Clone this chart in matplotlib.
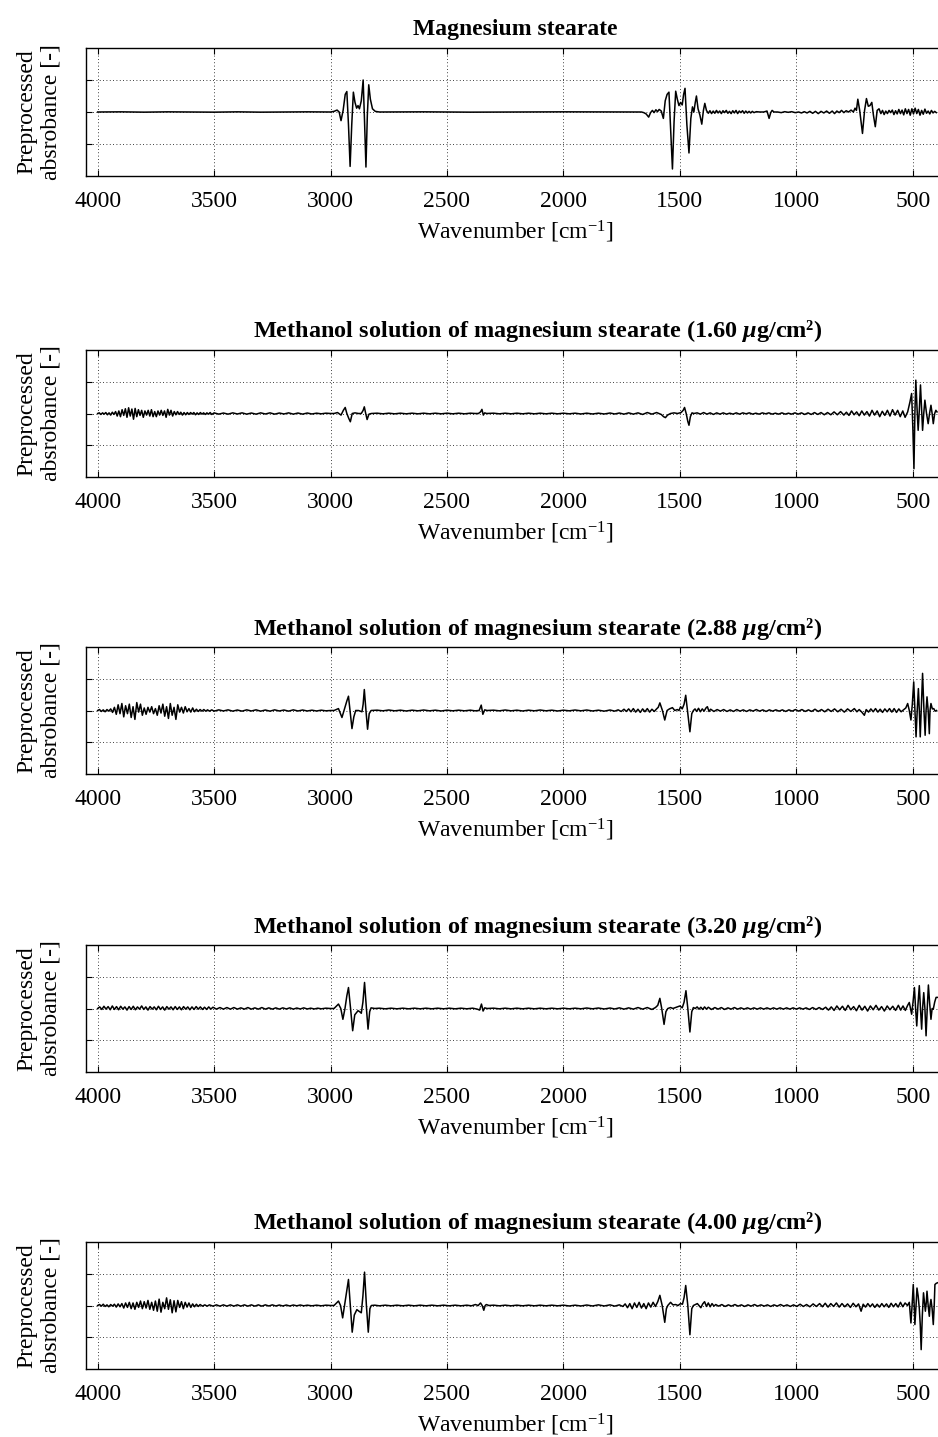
import matplotlib
matplotlib.use("Agg")
import matplotlib.pyplot as plt

plt.rcParams.update({
    "font.family": ["Liberation Serif", "DejaVu Serif"],
    "mathtext.fontset": "custom",
    "mathtext.rm": "Liberation Serif",
    "mathtext.it": "Liberation Serif:italic:bold",
    "mathtext.bf": "Liberation Serif:bold",
})

# ---------------------------------------------------------------------------
# Preprocessed absorbance spectra: (wavenumber [cm-1], absorbance) pairs
# ---------------------------------------------------------------------------
SPEC_POWDER = [
    (4000, 0.0), (3900, 0.005), (3800, -0.005), (3700, 0.005), (3600, 0.0),
    (3500, -0.005), (3400, 0.005), (3300, -0.005), (3200, 0.0), (3100, 0.005),
    (3000, 0.0), (2985, 0.02), (2972, 0.06), (2963, 0.0), (2955, -0.27),
    (2946, 0.05), (2937, 0.55), (2930, 0.64), (2923, -0.4), (2916, -1.70),
    (2909, -0.4), (2902, 0.62), (2895, 0.3), (2888, 0.12), (2882, 0.2),
    (2876, 0.1), (2868, 0.35), (2860, 1.0), (2854, -0.3), (2848, -1.72),
    (2842, -0.1), (2836, 0.85), (2829, 0.4), (2820, 0.1), (2808, 0.02),
    (2790, 0.0), (2600, 0.005), (2400, -0.005), (2200, 0.0), (2000, 0.005),
    (1800, 0.0), (1665, 0.0), (1655, -0.02), (1645, -0.06), (1634, -0.16),
    (1626, -0.02), (1618, 0.05), (1611, -0.02), (1603, 0.07), (1596, 0.01),
    (1589, 0.08), (1580, 0.03), (1571, -0.2), (1563, 0.35), (1555, 0.55),
    (1547, 0.62), (1540, -0.5), (1532, -1.78), (1525, -0.3), (1518, 0.65),
    (1511, 0.4), (1504, 0.2), (1497, 0.3), (1490, 0.22), (1484, 0.55),
    (1478, 0.74), (1470, -0.4), (1461, -1.28), (1453, -0.2), (1446, 0.16),
    (1440, 0.0), (1434, 0.3), (1429, 0.5), (1422, 0.1), (1414, -0.1),
    (1406, -0.38), (1399, 0.05), (1393, 0.27), (1386, 0.05), (1378, -0.04),
    (1371, 0.04), (1364, -0.05), (1357, 0.03), (1350, -0.04), (1343, 0.05),
    (1336, -0.03), (1329, 0.03), (1322, -0.05), (1315, 0.04), (1308, -0.02),
    (1301, 0.05), (1294, -0.04), (1287, 0.02), (1280, -0.05), (1273, 0.04),
    (1266, -0.03), (1259, 0.05), (1252, -0.05), (1245, 0.03), (1238, -0.02),
    (1231, 0.04), (1224, -0.04), (1217, 0.03), (1210, -0.03), (1203, 0.02),
    (1196, -0.03), (1189, 0.02), (1182, -0.02), (1172, 0.01), (1158, 0.0),
    (1140, 0.0), (1126, 0.03), (1117, -0.2), (1110, -0.02), (1104, 0.05),
    (1096, 0.0), (1080, 0.0), (1065, -0.02), (1050, 0.01), (1035, -0.01),
    (1020, 0.01), (1005, -0.02), (990, 0.0), (978, -0.03), (966, 0.01),
    (954, -0.03), (942, 0.02), (930, -0.04), (918, 0.02), (906, -0.05),
    (894, 0.02), (882, -0.03), (870, 0.03), (858, -0.04), (846, 0.03),
    (836, -0.05), (826, 0.03), (816, -0.02), (806, 0.05), (796, -0.02),
    (786, 0.04), (776, 0.0), (765, 0.06), (755, 0.0), (748, 0.12),
    (742, 0.05), (736, 0.4), (728, 0.05), (716, -0.67), (707, 0.05),
    (699, 0.42), (691, 0.18), (684, 0.2), (676, 0.3), (669, -0.1),
    (661, -0.46), (653, 0.05), (645, 0.1), (637, -0.05), (630, 0.05),
    (623, -0.08), (616, 0.03), (609, -0.05), (602, 0.05), (595, -0.02),
    (588, 0.06), (581, -0.08), (574, 0.04), (567, -0.06), (560, 0.08),
    (553, -0.05), (546, 0.06), (539, -0.09), (532, 0.1), (525, -0.05),
    (518, 0.08), (511, -0.1), (504, 0.1), (497, -0.06), (490, 0.12),
    (483, -0.05), (476, 0.08), (469, -0.1), (462, 0.05), (455, -0.07),
    (448, 0.09), (441, -0.04), (434, 0.03), (427, -0.06), (420, 0.05),
    (413, -0.03), (406, 0.02), (399, -0.02),
]

SPEC_160 = [
    (4000, 0.0), (3993, 0.02), (3986, -0.03), (3979, 0.02), (3972, -0.02),
    (3965, 0.03), (3958, -0.04), (3951, 0.02), (3944, -0.05), (3937, 0.04),
    (3930, -0.03), (3923, 0.06), (3916, -0.08), (3909, 0.08), (3902, -0.1),
    (3895, 0.12), (3888, -0.06), (3881, 0.15), (3874, -0.12), (3867, 0.18),
    (3860, -0.08), (3853, 0.14), (3846, -0.18), (3839, 0.16), (3832, -0.1),
    (3825, 0.12), (3818, -0.06), (3811, 0.1), (3804, -0.12), (3797, 0.08),
    (3790, -0.05), (3783, 0.1), (3776, -0.08), (3769, 0.12), (3762, -0.1),
    (3755, 0.06), (3748, -0.1), (3741, 0.08), (3734, -0.05), (3727, 0.1),
    (3720, -0.06), (3713, 0.08), (3706, -0.12), (3699, 0.13), (3692, -0.05),
    (3685, 0.1), (3678, -0.08), (3671, 0.06), (3664, -0.04), (3657, 0.06),
    (3650, -0.03), (3643, 0.04), (3636, -0.05), (3629, 0.03), (3622, -0.04),
    (3615, 0.03), (3608, -0.03), (3601, 0.03), (3594, -0.02), (3587, 0.03),
    (3580, -0.04), (3573, 0.02), (3566, -0.03), (3559, 0.03), (3552, -0.02),
    (3545, 0.02), (3538, -0.03), (3531, 0.02), (3524, -0.02), (3517, 0.03),
    (3510, -0.03), (3500, 0.02), (3480, -0.02), (3460, 0.015), (3440, -0.02),
    (3420, 0.02), (3400, -0.015), (3380, 0.02), (3360, -0.02), (3340, 0.015),
    (3320, -0.02), (3300, 0.02), (3280, -0.015), (3260, 0.02), (3240, -0.02),
    (3220, 0.015), (3200, -0.015), (3180, 0.02), (3160, -0.02), (3140, 0.015),
    (3120, -0.02), (3100, 0.015), (3080, -0.015), (3060, 0.01), (3040, -0.01),
    (3020, 0.01), (3000, 0.0), (2985, 0.0), (2970, 0.03), (2955, -0.05),
    (2945, 0.1), (2937, 0.19), (2930, 0.0), (2922, -0.15), (2915, -0.26),
    (2907, 0.0), (2895, 0.02), (2880, 0.0), (2868, 0.0), (2860, 0.1),
    (2855, 0.21), (2849, 0.0), (2843, -0.19), (2835, -0.02), (2825, 0.0),
    (2800, 0.01), (2775, -0.01), (2750, 0.01), (2725, -0.01), (2700, 0.01),
    (2675, -0.01), (2650, 0.01), (2625, -0.01), (2600, 0.01), (2575, -0.01),
    (2550, 0.01), (2525, -0.01), (2500, 0.01), (2475, -0.01), (2450, 0.01),
    (2425, -0.01), (2400, 0.01), (2380, 0.0), (2365, 0.0), (2356, 0.05),
    (2350, 0.13), (2344, -0.05), (2338, 0.02), (2330, 0.0), (2300, 0.01),
    (2275, -0.01), (2250, 0.01), (2225, -0.01), (2200, 0.01), (2175, -0.01),
    (2150, 0.01), (2125, -0.01), (2100, 0.01), (2075, -0.01), (2050, 0.01),
    (2025, -0.01), (2000, 0.01), (1975, -0.01), (1950, 0.01), (1925, -0.015),
    (1900, 0.01), (1875, -0.015), (1850, 0.01), (1825, -0.015), (1800, 0.015),
    (1780, -0.015), (1760, 0.015), (1740, -0.02), (1720, 0.02), (1700, -0.02),
    (1680, 0.02), (1660, -0.03), (1640, 0.03), (1620, -0.02), (1600, 0.03),
    (1590, 0.0), (1580, -0.03), (1570, -0.1), (1562, -0.13), (1553, -0.05),
    (1540, 0.0), (1525, 0.02), (1510, 0.0), (1495, 0.03), (1486, 0.1),
    (1480, 0.19), (1473, 0.0), (1466, -0.25), (1461, -0.37), (1455, -0.1),
    (1448, 0.02), (1440, 0.0), (1426, 0.02), (1412, -0.02), (1398, 0.03),
    (1384, -0.02), (1370, 0.02), (1356, -0.03), (1342, 0.02), (1328, -0.02),
    (1314, 0.02), (1300, -0.02), (1286, 0.01), (1272, -0.02), (1258, 0.02),
    (1244, -0.02), (1230, 0.02), (1216, -0.01), (1202, 0.02), (1188, -0.02),
    (1174, 0.01), (1160, -0.02), (1146, 0.02), (1132, -0.01), (1118, 0.02),
    (1104, -0.02), (1090, 0.01), (1076, -0.02), (1062, 0.02), (1048, -0.02),
    (1034, 0.01), (1020, -0.02), (1006, 0.02), (992, -0.02), (978, 0.02),
    (964, -0.03), (950, 0.02), (936, -0.03), (922, 0.03), (908, -0.03),
    (894, 0.03), (880, -0.04), (866, 0.03), (852, -0.04), (838, 0.05),
    (824, -0.04), (810, 0.06), (796, -0.05), (785, 0.04), (774, -0.06),
    (763, 0.08), (752, -0.04), (741, 0.05), (730, -0.07), (719, 0.08),
    (708, -0.05), (697, 0.06), (686, -0.08), (675, 0.1), (664, -0.05),
    (653, 0.08), (642, -0.1), (631, 0.07), (620, -0.06), (609, 0.1),
    (598, -0.08), (587, 0.12), (576, -0.05), (565, 0.1), (554, -0.1),
    (543, 0.08), (533, -0.12), (522, 0.05), (512, 0.37), (505, 0.63),
    (500, -0.4), (495, -1.74), (491, 0.0), (487, 1.05), (482, 0.2),
    (477, -0.53), (472, 0.1), (467, 0.9), (462, 0.1), (458, -0.53),
    (453, 0.0), (448, 0.42), (441, 0.0), (434, -0.32), (428, 0.0),
    (422, 0.26), (417, 0.0), (412, -0.32), (406, 0.0), (401, 0.1),
    (396, 0.05),
]

SPEC_288 = [
    (4000, 0.0), (3992, 0.03), (3984, -0.03), (3976, 0.02), (3968, -0.04),
    (3960, 0.03), (3952, -0.02), (3944, 0.05), (3936, -0.06), (3928, 0.1),
    (3920, -0.12), (3912, 0.18), (3904, -0.1), (3896, 0.22), (3888, -0.2),
    (3880, 0.15), (3872, -0.1), (3864, 0.2), (3856, -0.22), (3848, 0.12),
    (3840, -0.28), (3832, 0.25), (3824, -0.05), (3816, 0.2), (3808, -0.15),
    (3800, 0.08), (3792, -0.12), (3784, 0.1), (3776, -0.05), (3768, 0.12),
    (3760, -0.1), (3752, 0.06), (3744, -0.15), (3736, 0.15), (3728, -0.08),
    (3720, 0.2), (3712, -0.18), (3704, 0.12), (3696, -0.25), (3688, 0.22),
    (3680, -0.15), (3672, 0.1), (3664, -0.28), (3656, 0.18), (3648, -0.05),
    (3640, 0.1), (3632, -0.08), (3624, 0.12), (3616, -0.04), (3608, 0.06),
    (3600, -0.05), (3592, 0.08), (3584, -0.04), (3576, 0.04), (3568, -0.03),
    (3560, 0.03), (3552, -0.02), (3544, 0.03), (3536, -0.02), (3528, 0.02),
    (3520, -0.02), (3510, 0.02), (3500, -0.02), (3480, 0.02), (3460, -0.015),
    (3440, 0.02), (3420, -0.02), (3400, 0.015), (3380, -0.02), (3360, 0.02),
    (3340, -0.015), (3320, 0.02), (3300, -0.02), (3280, 0.015), (3260, -0.02),
    (3240, 0.02), (3220, -0.015), (3200, 0.015), (3180, -0.02), (3160, 0.02),
    (3140, -0.015), (3120, 0.015), (3100, -0.015), (3080, 0.01), (3060, -0.015),
    (3040, 0.01), (3020, -0.01), (3000, 0.0), (2985, 0.0), (2966, 0.06),
    (2951, -0.22), (2940, 0.05), (2930, 0.3), (2923, 0.45), (2915, -0.1),
    (2908, -0.57), (2900, -0.2), (2892, 0.0), (2880, 0.0), (2865, -0.04),
    (2860, 0.2), (2855, 0.66), (2848, 0.0), (2841, -0.59), (2834, -0.1),
    (2826, 0.0), (2800, 0.01), (2775, -0.01), (2750, 0.015), (2725, -0.01),
    (2700, 0.01), (2675, -0.015), (2650, 0.01), (2625, -0.01), (2600, 0.015),
    (2575, -0.01), (2550, 0.01), (2525, -0.015), (2500, 0.01), (2475, -0.01),
    (2450, 0.01), (2425, -0.01), (2400, 0.01), (2380, -0.01), (2362, 0.0),
    (2353, 0.17), (2346, -0.12), (2338, 0.02), (2328, 0.0), (2300, 0.01),
    (2275, -0.01), (2250, 0.015), (2225, -0.01), (2200, 0.01), (2175, -0.015),
    (2150, 0.01), (2125, -0.01), (2100, 0.015), (2075, -0.01), (2050, 0.01),
    (2025, -0.015), (2000, 0.01), (1975, -0.01), (1950, 0.015), (1925, -0.01),
    (1900, 0.015), (1875, -0.015), (1850, 0.01), (1825, -0.02), (1800, 0.015),
    (1780, -0.02), (1765, 0.02), (1752, -0.03), (1740, 0.04), (1730, -0.03),
    (1720, 0.05), (1710, -0.04), (1700, 0.06), (1690, -0.05), (1680, 0.04),
    (1670, -0.06), (1660, 0.05), (1650, -0.04), (1640, 0.06), (1630, -0.05),
    (1620, 0.04), (1610, -0.03), (1600, 0.05), (1593, 0.1), (1586, 0.24),
    (1575, 0.0), (1565, -0.3), (1555, 0.0), (1545, 0.05), (1532, 0.09),
    (1522, 0.0), (1511, 0.03), (1504, 0.0), (1497, 0.12), (1490, 0.05),
    (1482, 0.2), (1475, 0.48), (1466, -0.1), (1457, -0.67), (1449, -0.1),
    (1442, 0.0), (1435, 0.05), (1428, -0.03), (1420, 0.07), (1412, -0.04),
    (1404, 0.05), (1396, -0.02), (1388, 0.08), (1382, 0.12), (1375, -0.03),
    (1368, 0.04), (1354, -0.03), (1340, 0.03), (1326, -0.02), (1312, 0.03),
    (1298, -0.03), (1284, 0.02), (1270, -0.03), (1256, 0.03), (1242, -0.02),
    (1228, 0.02), (1214, -0.03), (1200, 0.02), (1186, -0.02), (1172, 0.03),
    (1158, -0.02), (1144, 0.02), (1130, -0.03), (1116, 0.02), (1102, -0.02),
    (1088, 0.02), (1074, -0.02), (1060, 0.02), (1046, -0.03), (1032, 0.02),
    (1018, -0.02), (1004, 0.03), (990, -0.02), (976, 0.03), (962, -0.03),
    (948, 0.02), (934, -0.03), (920, 0.04), (906, -0.03), (892, 0.03),
    (878, -0.04), (864, 0.04), (850, -0.03), (836, 0.05), (822, -0.04),
    (808, 0.04), (794, -0.05), (780, 0.05), (766, -0.03), (751, 0.06),
    (740, -0.04), (730, 0.03), (719, -0.05), (708, -0.15), (700, 0.03),
    (690, -0.05), (680, 0.05), (670, -0.04), (660, 0.06), (650, -0.05),
    (640, 0.04), (630, -0.06), (620, 0.05), (610, -0.04), (600, 0.06),
    (590, -0.05), (580, 0.06), (570, -0.06), (560, 0.05), (550, -0.04),
    (540, 0.02), (530, 0.08), (522, 0.22), (515, 0.0), (508, -0.3),
    (502, 0.2), (496, 0.9), (491, 0.0), (486, -0.83), (481, 0.0),
    (476, 0.69), (472, 0.0), (468, -0.83), (463, 0.2), (458, 1.17),
    (452, 0.0), (447, -0.78), (443, 0.0), (439, 0.43), (434, 0.0),
    (429, -0.73), (426, 0.0), (422, 0.22), (416, 0.05), (410, 0.06),
    (404, -0.02), (398, 0.0),
]

SPEC_320 = [
    (4000, 0.0), (3991, 0.05), (3982, -0.03), (3973, 0.07), (3964, -0.02),
    (3955, 0.06), (3946, -0.04), (3937, 0.08), (3928, -0.03), (3919, 0.06),
    (3910, -0.04), (3901, 0.07), (3892, -0.02), (3883, 0.05), (3874, -0.05),
    (3865, 0.06), (3856, -0.03), (3847, 0.07), (3838, -0.04), (3829, 0.05),
    (3820, -0.02), (3811, 0.08), (3802, -0.03), (3793, 0.05), (3784, -0.05),
    (3775, 0.06), (3766, -0.02), (3757, 0.05), (3748, -0.04), (3739, 0.07),
    (3730, -0.03), (3721, 0.05), (3712, -0.05), (3703, 0.06), (3694, -0.02),
    (3685, 0.05), (3676, -0.04), (3667, 0.06), (3658, -0.03), (3649, 0.05),
    (3640, -0.04), (3631, 0.06), (3622, -0.02), (3613, 0.05), (3604, -0.04),
    (3595, 0.05), (3586, -0.03), (3577, 0.06), (3568, -0.02), (3559, 0.05),
    (3550, -0.03), (3541, 0.04), (3532, -0.03), (3523, 0.05), (3514, -0.02),
    (3505, 0.04), (3490, -0.02), (3475, 0.03), (3460, -0.02), (3445, 0.03),
    (3430, -0.02), (3415, 0.03), (3400, -0.02), (3385, 0.02), (3370, -0.02),
    (3355, 0.03), (3340, -0.02), (3325, 0.02), (3310, -0.02), (3295, 0.03),
    (3280, -0.02), (3265, 0.02), (3250, -0.02), (3235, 0.02), (3220, -0.02),
    (3205, 0.02), (3190, -0.015), (3175, 0.02), (3160, -0.02), (3145, 0.015),
    (3130, -0.015), (3115, 0.02), (3100, -0.015), (3085, 0.01), (3070, -0.015),
    (3055, 0.01), (3040, -0.01), (3020, 0.01), (3000, 0.0), (2985, 0.0),
    (2966, 0.14), (2956, 0.0), (2947, -0.34), (2938, 0.0), (2930, 0.4),
    (2923, 0.66), (2914, 0.0), (2905, -0.7), (2896, -0.2), (2882, -0.07),
    (2875, -0.1), (2868, -0.15), (2861, 0.2), (2854, 0.82), (2846, 0.0),
    (2839, -0.65), (2832, -0.1), (2826, 0.02), (2810, 0.0), (2790, 0.01),
    (2765, -0.01), (2740, 0.01), (2715, -0.01), (2690, 0.01), (2665, -0.01),
    (2640, 0.01), (2615, -0.01), (2590, 0.01), (2565, -0.01), (2540, 0.01),
    (2515, -0.01), (2490, 0.01), (2465, -0.01), (2440, 0.01), (2415, -0.01),
    (2390, 0.01), (2370, -0.02), (2360, -0.05), (2352, 0.14), (2345, -0.08),
    (2338, 0.02), (2328, 0.0), (2300, 0.01), (2275, -0.01), (2250, 0.01),
    (2225, -0.01), (2200, 0.01), (2175, -0.01), (2150, 0.01), (2125, -0.01),
    (2100, 0.01), (2075, -0.01), (2050, 0.01), (2025, -0.01), (2000, 0.01),
    (1975, -0.01), (1950, 0.01), (1925, -0.01), (1900, 0.015), (1875, -0.01),
    (1850, 0.015), (1825, -0.015), (1800, 0.015), (1780, -0.015), (1760, 0.02),
    (1740, -0.02), (1720, 0.02), (1700, -0.02), (1680, 0.03), (1660, -0.02),
    (1640, 0.03), (1620, -0.03), (1605, 0.03), (1595, 0.1), (1586, 0.32),
    (1578, 0.0), (1568, -0.5), (1560, -0.1), (1552, 0.0), (1540, 0.03),
    (1530, 0.0), (1515, 0.04), (1500, 0.08), (1490, 0.02), (1482, 0.2),
    (1474, 0.56), (1466, 0.0), (1457, -0.74), (1449, -0.1), (1442, 0.03),
    (1434, 0.0), (1426, 0.05), (1418, -0.02), (1410, 0.04), (1402, -0.03),
    (1394, 0.05), (1386, -0.02), (1378, 0.04), (1364, -0.03), (1350, 0.03),
    (1336, -0.02), (1322, 0.03), (1308, -0.03), (1294, 0.02), (1280, -0.02),
    (1266, 0.03), (1252, -0.02), (1238, 0.02), (1224, -0.02), (1210, 0.02),
    (1196, -0.02), (1182, 0.02), (1168, -0.02), (1154, 0.02), (1140, -0.02),
    (1126, 0.02), (1112, -0.02), (1098, 0.02), (1084, -0.02), (1070, 0.02),
    (1056, -0.02), (1042, 0.02), (1028, -0.02), (1014, 0.02), (1000, -0.02),
    (986, 0.02), (972, -0.02), (958, 0.02), (944, -0.03), (930, 0.03),
    (916, -0.03), (902, 0.03), (888, -0.03), (874, 0.04), (862, -0.05),
    (850, 0.05), (838, -0.06), (826, 0.08), (814, -0.04), (802, 0.07),
    (790, -0.06), (778, 0.1), (766, -0.04), (754, 0.06), (742, -0.07),
    (730, 0.1), (718, -0.05), (706, 0.07), (694, -0.08), (682, 0.08),
    (670, -0.04), (658, 0.1), (646, -0.05), (634, 0.06), (622, -0.08),
    (610, 0.08), (598, -0.04), (586, 0.07), (574, -0.06), (562, 0.1),
    (552, -0.05), (542, 0.08), (532, -0.06), (522, 0.1), (515, 0.19),
    (510, 0.0), (505, -0.18), (499, 0.2), (493, 0.66), (488, 0.0),
    (483, -0.55), (478, 0.1), (472, 0.72), (467, 0.0), (462, -0.65),
    (458, 0.0), (453, 0.5), (448, 0.0), (443, -0.86), (438, 0.0),
    (433, 0.74), (428, 0.2), (422, -0.34), (417, 0.0), (412, -0.02),
    (406, 0.2), (400, 0.35), (394, 0.35),
]

SPEC_400 = [
    (4000, 0.0), (3992, 0.03), (3984, -0.02), (3976, 0.04), (3968, -0.03),
    (3960, 0.02), (3952, -0.04), (3944, 0.03), (3936, -0.02), (3928, 0.04),
    (3920, -0.05), (3912, 0.05), (3904, -0.04), (3896, 0.06), (3888, -0.08),
    (3880, 0.08), (3872, -0.06), (3864, 0.1), (3856, -0.1), (3848, 0.08),
    (3840, -0.12), (3832, 0.1), (3824, -0.06), (3816, 0.14), (3808, -0.1),
    (3800, 0.12), (3792, -0.08), (3784, 0.16), (3776, -0.12), (3768, 0.1),
    (3760, -0.15), (3752, 0.14), (3744, -0.18), (3736, 0.2), (3728, -0.21),
    (3720, 0.1), (3712, -0.1), (3704, 0.24), (3696, -0.12), (3688, 0.18),
    (3680, -0.23), (3672, 0.15), (3664, -0.2), (3656, 0.16), (3648, -0.06),
    (3640, 0.12), (3632, -0.1), (3624, 0.1), (3616, -0.05), (3608, 0.08),
    (3600, -0.06), (3592, 0.05), (3584, -0.04), (3576, 0.04), (3568, -0.03),
    (3560, 0.03), (3550, -0.02), (3540, 0.02), (3530, -0.02), (3520, 0.02),
    (3505, -0.02), (3490, 0.02), (3475, -0.02), (3460, 0.02), (3445, -0.02),
    (3430, 0.02), (3415, -0.02), (3400, 0.02), (3385, -0.02), (3370, 0.02),
    (3355, -0.02), (3340, 0.02), (3325, -0.02), (3310, 0.02), (3295, -0.02),
    (3280, 0.02), (3265, -0.015), (3250, 0.02), (3235, -0.015), (3220, 0.015),
    (3205, -0.015), (3190, 0.015), (3175, -0.015), (3160, 0.015), (3145, -0.01),
    (3130, 0.015), (3115, -0.01), (3100, 0.01), (3080, -0.01), (3060, 0.01),
    (3040, -0.01), (3020, 0.01), (3000, 0.0), (2985, 0.0), (2966, 0.14),
    (2957, 0.0), (2948, -0.39), (2938, 0.1), (2930, 0.5), (2923, 0.82),
    (2915, 0.0), (2907, -0.84), (2898, -0.3), (2887, -0.13), (2878, -0.18),
    (2868, -0.23), (2861, 0.3), (2854, 1.05), (2846, 0.0), (2838, -0.84),
    (2831, -0.1), (2825, 0.0), (2810, 0.01), (2790, -0.01), (2765, 0.01),
    (2740, -0.01), (2715, 0.01), (2690, -0.01), (2665, 0.01), (2640, -0.01),
    (2615, 0.01), (2590, -0.01), (2565, 0.01), (2540, -0.01), (2515, 0.01),
    (2490, -0.01), (2465, 0.01), (2440, -0.01), (2415, 0.01), (2395, -0.01),
    (2378, 0.03), (2366, 0.0), (2356, 0.08), (2349, 0.0), (2342, -0.15),
    (2336, 0.0), (2331, 0.03), (2320, 0.0), (2300, 0.01), (2275, -0.01),
    (2250, 0.01), (2225, -0.01), (2200, 0.01), (2175, -0.01), (2150, 0.01),
    (2125, -0.01), (2100, 0.01), (2075, -0.01), (2050, 0.01), (2025, -0.01),
    (2000, 0.01), (1975, -0.015), (1950, 0.01), (1925, -0.015), (1900, 0.015),
    (1875, -0.015), (1850, 0.02), (1825, -0.015), (1800, 0.02), (1780, -0.02),
    (1760, 0.02), (1745, -0.03), (1735, 0.05), (1725, -0.07), (1715, 0.06),
    (1705, -0.1), (1695, 0.08), (1685, -0.06), (1675, 0.1), (1665, -0.08),
    (1655, 0.06), (1645, -0.1), (1635, 0.08), (1625, -0.05), (1615, 0.1),
    (1605, -0.03), (1595, 0.12), (1586, 0.32), (1576, 0.0), (1565, -0.53),
    (1558, -0.1), (1552, 0.0), (1540, 0.1), (1530, 0.02), (1518, 0.03),
    (1508, 0.0), (1497, 0.06), (1489, 0.04), (1482, 0.25), (1475, 0.63),
    (1466, 0.0), (1457, -0.92), (1449, -0.1), (1442, 0.0), (1434, 0.03),
    (1425, 0.06), (1418, 0.0), (1410, -0.07), (1402, 0.05), (1394, 0.12),
    (1386, -0.03), (1378, 0.08), (1370, -0.04), (1362, 0.06), (1354, -0.02),
    (1346, 0.03), (1334, -0.02), (1320, 0.03), (1306, -0.03), (1292, 0.02),
    (1278, -0.02), (1264, 0.03), (1250, -0.02), (1236, 0.02), (1222, -0.03),
    (1208, 0.02), (1194, -0.02), (1180, 0.03), (1166, -0.02), (1152, 0.02),
    (1138, -0.02), (1124, 0.02), (1110, -0.03), (1096, 0.02), (1082, -0.02),
    (1068, 0.03), (1054, -0.02), (1040, 0.02), (1026, -0.03), (1012, 0.02),
    (998, -0.03), (984, 0.04), (970, -0.03), (956, 0.03), (942, -0.04),
    (928, 0.05), (914, -0.03), (900, 0.06), (888, -0.04), (876, 0.07),
    (864, -0.05), (852, 0.06), (840, -0.03), (828, 0.08), (816, -0.05),
    (804, 0.06), (792, -0.04), (780, 0.05), (768, -0.06), (756, 0.07),
    (744, -0.04), (733, 0.05), (722, -0.18), (713, 0.04), (703, -0.05),
    (693, 0.06), (683, -0.04), (673, 0.05), (663, -0.06), (653, 0.04),
    (643, -0.05), (633, 0.06), (623, -0.04), (613, 0.05), (603, -0.06),
    (593, 0.07), (583, -0.04), (573, 0.06), (563, -0.05), (553, 0.1),
    (543, -0.04), (533, 0.08), (523, 0.0), (515, 0.1), (508, -0.55),
    (503, 0.0), (498, 0.66), (494, 0.0), (491, -0.6), (486, 0.0),
    (482, 0.55), (477, 0.3), (472, -0.1), (468, -0.6), (464, -1.39),
    (459, -0.3), (454, 0.4), (450, 0.1), (446, -0.18), (442, 0.1),
    (439, 0.45), (434, 0.0), (429, -0.34), (426, 0.0), (422, 0.19),
    (417, -0.1), (412, -0.6), (408, 0.0), (405, 0.66), (399, 0.7),
    (392, 0.72),
]

PANEL_TITLES = [
    "Magnesium stearate",
    "Methanol solution of magnesium stearate (1.60 $\\mu$g/cm\u00b2)",
    "Methanol solution of magnesium stearate (2.88 $\\mu$g/cm\u00b2)",
    "Methanol solution of magnesium stearate (3.20 $\\mu$g/cm\u00b2)",
    "Methanol solution of magnesium stearate (4.00 $\\mu$g/cm\u00b2)",
]
SPECTRA = [SPEC_POWDER, SPEC_160, SPEC_288, SPEC_320, SPEC_400]
X_TICKS = [4000, 3500, 3000, 2500, 2000, 1500, 1000, 500]
Y_GRID = [-1, 0, 1]

# ---------------------------------------------------------------------------
W, H = 938, 1437
fig = plt.figure(figsize=(W / 100, H / 100), dpi=100)

AX_LEFT, AX_RIGHT = 86, 944          # axes run slightly past the right edge
PANEL_ROWS = [(48, 176), (350, 477), (647, 774), (945, 1072), (1242, 1369)]

FS = 17
for i, ((top, bot), title, spec) in enumerate(zip(PANEL_ROWS, PANEL_TITLES,
                                                  SPECTRA)):
    ax = fig.add_axes([AX_LEFT / W, 1 - bot / H,
                       (AX_RIGHT - AX_LEFT) / W, (bot - top) / H])
    wn = [p[0] for p in spec]
    ab = [p[1] for p in spec]
    ax.plot(wn, ab, color="black", linewidth=1.1)

    ax.set_xlim(4050, 366)
    ax.set_ylim(-2, 2)
    ax.set_xticks(X_TICKS)
    ax.set_xticklabels([str(t) for t in X_TICKS], fontsize=FS)
    ax.set_yticks(Y_GRID)
    ax.set_yticklabels([])
    ax.tick_params(axis="both", direction="in", length=4.5, width=0.8,
                   top=True, right=False, pad=10.5)
    ax.grid(True, linestyle=(0, (1, 3)), color="black", linewidth=0.6)
    for side in ("left", "bottom", "top"):
        ax.spines[side].set_linewidth(1.0)
    ax.spines["right"].set_visible(False)

    if i == 0:
        ax.set_title(title, fontsize=FS, fontweight="bold", pad=9)
    else:
        t = ax.set_title(title, fontsize=17.5, fontweight="bold", pad=9)
        t.set_x((538 - AX_LEFT) / (AX_RIGHT - AX_LEFT))
    ax.set_xlabel("Wavenumber [cm$^{\\mathrm{-1}}$]", fontsize=FS, labelpad=5)
    ax.set_ylabel("Preprocessed\nabsrobance [-]", fontsize=FS,
                  labelpad=7, linespacing=1.22)

fig.savefig("out.png", dpi=100)
